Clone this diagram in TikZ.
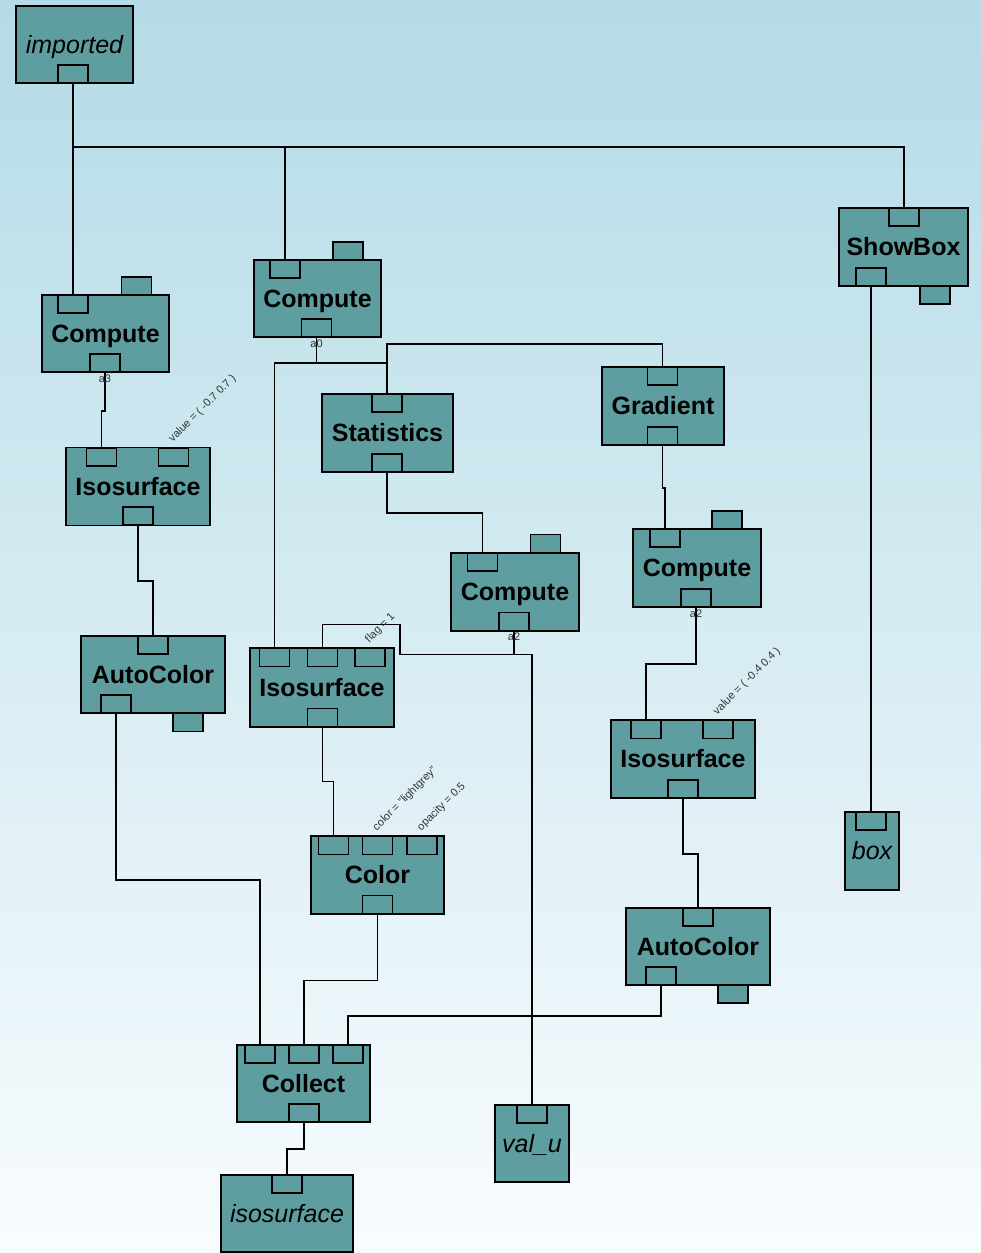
\documentclass[tikz,border=0pt]{standalone}
\usepackage{fontspec}
\setmainfont{Liberation Sans}
\usetikzlibrary{positioning}
\definecolor{cadet}{RGB}{95,158,160}
\definecolor{bgtop}{RGB}{180,219,231}
\definecolor{bgbot}{RGB}{248,252,254}

\begin{document}
\begin{tikzpicture}[x=1pt, y=-1pt,
  bsize/.style 2 args={minimum width=#1, minimum height=#2},
  blk/.style={draw, fill=cadet, line width=1.6pt, inner sep=0pt,
    text height=17.9pt, text depth=0pt,
    font=\fontsize{25}{30}\selectfont\bfseries},
  dat/.style={blk, font=\fontsize{25}{30}\selectfont\itshape},
  port/.style={draw, fill=cadet, line width=1.6pt, inner sep=0pt,
    minimum width=30pt, minimum height=18pt},
  lbl/.style={font=\fontsize{11}{13}\selectfont, text=black!80, inner sep=0.5pt},
  parm/.style={lbl, rotate=45, anchor=south west},
  wire/.style={line width=1.6pt}]
  \useasboundingbox (0,0) rectangle (981,1253);
  \shade [top color=bgtop, bottom color=bgbot] (0,0) rectangle (981,1253);

  % modules
  \node [dat, bsize={117pt}{77pt}] (imp) at (74.5,44.5) {imported};
  \node [port] (imp-o) at (73,74) {};

  \node [blk, bsize={127pt}{77pt}] (c1) at (105.5,333.5) {Compute};
  \node [port] (c1-i) at (73,304) {};
  \node [port] (c1-x) at (136.5,286) {};
  \node [port] (c1-o) at (105,363) {};

  \node [blk, bsize={127pt}{77pt}] (c2) at (317.5,298.5) {Compute};
  \node [port] (c2-i) at (285,269) {};
  \node [port] (c2-x) at (348,251) {};
  \node [port] (c2-o) at (316.5,328) {};

  \node [blk, bsize={129pt}{78pt}] (sb) at (903.5,247) {ShowBox};
  \node [port] (sb-i) at (904,217) {};
  \node [port] (sb-o) at (871,277) {};
  \node [port] (sb-x) at (935,295) {};

  \node [blk, bsize={131pt}{78pt}] (st) at (387.5,433) {Statistics};
  \node [port] (st-i) at (387,403) {};
  \node [port] (st-o) at (387,463) {};

  \node [blk, bsize={122pt}{78pt}] (gr) at (663,406) {Gradient};
  \node [port] (gr-i) at (662.5,376) {};
  \node [port] (gr-o) at (662.5,436) {};

  \node [blk, bsize={128pt}{78pt}] (c3) at (515,592) {Compute};
  \node [port] (c3-i) at (482.5,562) {};
  \node [port] (c3-x) at (545.5,543.5) {};
  \node [port] (c3-o) at (514,621.5) {};

  \node [blk, bsize={144pt}{78pt}] (is1) at (138,486.5) {Isosurface};
  \node [port] (is1-a) at (101.5,457) {};
  \node [port] (is1-b) at (173.5,457) {};
  \node [port] (is1-o) at (138,516) {};

  \node [blk, bsize={144pt}{79pt}] (is2) at (322,687.5) {Isosurface};
  \node [port] (is2-a) at (274.5,657.5) {};
  \node [port] (is2-b) at (322.5,657.5) {};
  \node [port] (is2-c) at (370,657.5) {};
  \node [port] (is2-o) at (322.5,717.5) {};

  \node [blk, bsize={128pt}{78pt}] (c4) at (697,568) {Compute};
  \node [port] (c4-i) at (665,538) {};
  \node [port] (c4-x) at (727,520) {};
  \node [port] (c4-o) at (696,598) {};

  \node [blk, bsize={144pt}{78pt}] (is3) at (683,759) {Isosurface};
  \node [port] (is3-a) at (646,729.5) {};
  \node [port] (is3-b) at (718,729.5) {};
  \node [port] (is3-o) at (683,789) {};

  \node [dat, bsize={54pt}{78pt}] (bx) at (872,851) {box};
  \node [port] (bx-i) at (871,821) {};

  \node [blk, bsize={144pt}{77pt}] (ac1) at (153,674.5) {AutoColor};
  \node [port] (ac1-i) at (153,645) {};
  \node [port] (ac1-o) at (116,704) {};
  \node [port] (ac1-x) at (188,722.5) {};

  \node [blk, bsize={133pt}{78pt}] (col) at (377.5,875) {Color};
  \node [port] (col-a) at (333.5,845.5) {};
  \node [port] (col-b) at (377.5,845.5) {};
  \node [port] (col-c) at (422,845.5) {};
  \node [port] (col-o) at (377.5,904.5) {};

  \node [blk, bsize={144pt}{77pt}] (ac2) at (698,946.5) {AutoColor};
  \node [port] (ac2-i) at (698,917) {};
  \node [port] (ac2-o) at (661,976) {};
  \node [port] (ac2-x) at (733,994) {};

  \node [blk, bsize={133pt}{77pt}] (cl) at (303.5,1083.5) {Collect};
  \node [port] (cl-a) at (260,1054) {};
  \node [port] (cl-b) at (304,1054) {};
  \node [port] (cl-c) at (348,1054) {};
  \node [port] (cl-o) at (304,1113) {};

  \node [dat, bsize={132pt}{77pt}] (iso) at (287,1213.5) {isosurface};
  \node [port] (iso-i) at (287,1184) {};

  \node [dat, bsize={74pt}{77pt}] (vu) at (532,1143.5) {val\_u};
  \node [port] (vu-i) at (532,1114) {};

  % connections
  \draw [wire] (imp-o.south) -- (c1-i.north);
  \draw [wire] (imp-o.south) -- ++(0,63) -| (c2-i.north);
  \draw [wire] (imp-o.south) -- ++(0,63) -| (sb-i.north);
  \draw [wire] (c1-o.south) -- ++(0,38) -| (is1-a.north);
  \draw [wire] (is1-o.south) -- ++(0,55) -| (ac1-i.north);
  \draw [wire] (ac1-o.south) -- ++(0,166) -| (cl-a.north);
  \draw [wire] (c2-o.south) -- ++(0,25) -| (is2-a.north);
  \draw [wire] (c2-o.south) -- ++(0,25) -| (st-i.north);
  \draw [wire] (c2-o.south) -- ++(0,25) -| ++(70.5,-19) -| (gr-i.north);
  \draw [wire] (st-o.south) -- ++(0,40) -| (c3-i.north);
  \draw [wire] (c3-o.south) -- ++(0,23) -| ++(-114,-30) -| (is2-b.north);
  \draw [wire] (c3-o.south) -- ++(0,23) -| (vu-i.north);
  \draw [wire] (gr-o.south) -- ++(0,42) -| (c4-i.north);
  \draw [wire] (c4-o.south) -- ++(0,56) -| (is3-a.north);
  \draw [wire] (is3-o.south) -- ++(0,55) -| (ac2-i.north);
  \draw [wire] (ac2-o.south) -- ++(0,30) -| (cl-c.north);
  \draw [wire] (is2-o.south) -- ++(0,54) -| (col-a.north);
  \draw [wire] (col-o.south) -- ++(0,66) -| (cl-b.north);
  \draw [wire] (cl-o.south) -- ++(0,26) -| (iso-i.north);
  \draw [wire] (sb-o.south) -- (bx-i.north);

  % port names and fixed values
  \node [lbl, below=1pt of c1-o] (c1-n) {a3};
  \node [lbl, below=1pt of c2-o] (c2-n) {a0};
  \node [lbl, below=1pt of c3-o] (c3-n) {a2};
  \node [lbl, below=1pt of c4-o] (c4-n) {a2};
  \node [parm] (is1-v) at ([xshift=1pt, yshift=2pt]is1-b.north) {value = ( -0.7 0.7 )};
  \node [parm] (is2-v) at ([xshift=1pt, yshift=2pt]is2-c.north) {flag = 1};
  \node [parm] (is3-v) at ([xshift=1pt, yshift=2pt]is3-b.north) {value = ( -0.4 0.4 )};
  \node [parm] (col-v1) at ([xshift=1pt, yshift=2pt]col-b.north) {color = "lightgrey"};
  \node [parm] (col-v2) at ([xshift=1pt, yshift=2pt]col-c.north) {opacity = 0.5};
\end{tikzpicture}
\end{document}
